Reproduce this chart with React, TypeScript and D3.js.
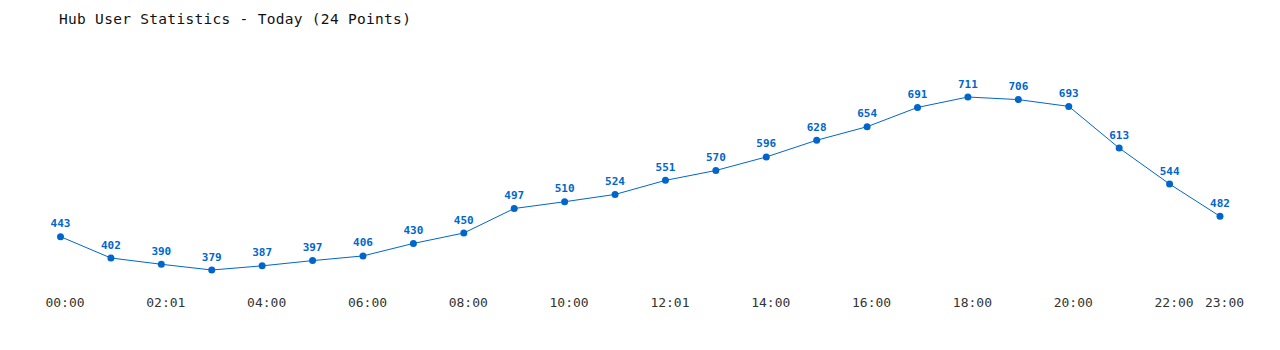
import React from "react";
import * as d3 from "d3";

const title = "Hub User Statistics - Today (24 Points)";
const values = [443, 402, 390, 379, 387, 397, 406, 430, 450, 497, 510, 524, 551, 570, 596, 628, 654, 691, 711, 706, 693, 613, 544, 482];
const tickIndices = [0, 2, 4, 6, 8, 10, 12, 14, 16, 18, 20, 22, 23];
const tickLabels = ["00:00", "02:01", "04:00", "06:00", "08:00", "10:00", "12:01", "14:00", "16:00", "18:00", "20:00", "22:00", "23:00"];

const W = 1280;
const H = 350;
const color = "#0066cc";
const font = "'DejaVu Sans Mono', 'Liberation Mono', monospace";

export default function App() {
  const x = d3.scaleLinear().domain([0, values.length - 1]).range([60.5, 1220]);
  const y = d3.scaleLinear().domain([379, 711]).range([270, 97]);
  const line = d3
    .line<number>()
    .x((_, i) => x(i))
    .y((d) => y(d));
  return (
    <svg
      width={W}
      height={H}
      style={{ position: "absolute", left: 0, top: 0, background: "#fff" }}
    >
      <text x={59} y={23.5} fontFamily={font} fontSize={14.5} letterSpacing={0.3} fill="#111">
        {title}
      </text>
      <path d={line(values) || ""} fill="none" stroke={color} strokeWidth={1} />
      {values.map((v, i) => (
        <g key={i}>
          <circle cx={x(i)} cy={y(v)} r={3.5} fill={color} />
          <text
            x={x(i)}
            y={y(v) - 9.5}
            textAnchor="middle"
            fontFamily={font}
            fontSize={11}
            fontWeight="bold"
            fill={color}
          >
            {v}
          </text>
        </g>
      ))}
      {tickIndices.map((ti, k) => (
        <text
          key={k}
          x={x(ti) + 4.5}
          y={307}
          textAnchor="middle"
          fontFamily={font}
          fontSize={13}
          fill="#333"
        >
          {tickLabels[k]}
        </text>
      ))}
    </svg>
  );
}
